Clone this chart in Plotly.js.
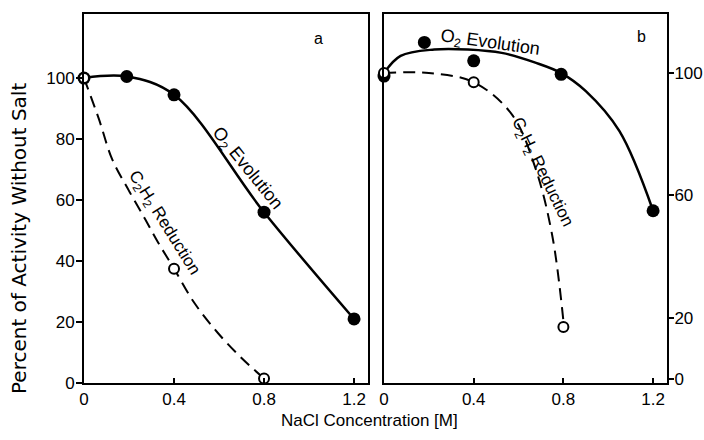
<!DOCTYPE html>
<html>
<head>
<meta charset="utf-8">
<script src="https://cdn.plot.ly/plotly-3.0.1.min.js"></script>
<style>html,body{margin:0;padding:0;background:#fff;}#chart{width:704px;height:440px;}</style>
</head>
<body>
<div id="chart"></div>
<script>
// ---- Data ----
const xTicks = [0, 0.4, 0.8, 1.2];
const xTickText = ['0', '0.4', '0.8', '1.2'];
const yTicksA = [0, 20, 40, 60, 80, 100];
const yTicksB = [0, 20, 60, 100];

// Panel a
const concA_O2 = [0, 0.19, 0.4, 0.8, 1.2];
const actA_O2 = [100, 100.5, 94.5, 56, 21];
const concA_C2H2 = [0, 0.4, 0.8];
const actA_C2H2 = [100, 37.5, 1.5];
const fitA_C2H2_x = [0, 0.066, 0.125, 0.2, 0.272, 0.33, 0.4, 0.49, 0.595, 0.7, 0.8];
const fitA_C2H2_y = [100, 86.6, 73.4, 63, 53.7, 46, 37.5, 26.3, 16.4, 8.2, 1.5];

// Panel b
const concB_O2 = [0, 0.18, 0.4, 0.79, 1.2];
const actB_O2 = [99, 110, 104, 99.6, 55];
const fitB_O2_x = [0, 0.074, 0.224, 0.374, 0.525, 0.675, 0.79, 0.9, 1.05, 1.2];
const fitB_O2_y = [100, 105.6, 107.7, 107.7, 106.6, 103.4, 100, 94.1, 81, 55];
const concB_C2H2 = [0, 0.4, 0.8];
const actB_C2H2 = [100, 97, 17];
const fitB_C2H2_x = [0, 0.2, 0.4, 0.57, 0.675, 0.75, 0.8];
const fitB_C2H2_y = [100, 100, 97, 86.5, 69, 47, 19];

const FONT = 'Liberation Sans, Arial, sans-serif';
const WIDE = 'DejaVu Sans';
const solid = {color: '#000', width: 2.5, shape: 'spline'};
const dashed = {color: '#000', width: 2, dash: '12px,7px', shape: 'spline'};
const filled = {color: '#000', size: 13};
const openM = {color: '#fff', size: 10, line: {color: '#000', width: 2}};

const traces = [
  {x: concA_O2, y: actA_O2, xaxis: 'x', yaxis: 'y', mode: 'lines+markers', line: solid, marker: filled, cliponaxis: false, name: 'O2 Evolution (a)'},
  {x: fitA_C2H2_x, y: fitA_C2H2_y, xaxis: 'x', yaxis: 'y', mode: 'lines', line: dashed, cliponaxis: false, name: 'C2H2 fit (a)'},
  {x: concA_C2H2, y: actA_C2H2, xaxis: 'x', yaxis: 'y', mode: 'markers', marker: openM, cliponaxis: false, name: 'C2H2 Reduction (a)'},
  {x: fitB_O2_x, y: fitB_O2_y, xaxis: 'x2', yaxis: 'y2', mode: 'lines', line: solid, cliponaxis: false, name: 'O2 fit (b)'},
  {x: concB_O2, y: actB_O2, xaxis: 'x2', yaxis: 'y2', mode: 'markers', marker: filled, cliponaxis: false, name: 'O2 Evolution (b)'},
  {x: fitB_C2H2_x, y: fitB_C2H2_y, xaxis: 'x2', yaxis: 'y2', mode: 'lines', line: dashed, cliponaxis: false, name: 'C2H2 fit (b)'},
  {x: concB_C2H2, y: actB_C2H2, xaxis: 'x2', yaxis: 'y2', mode: 'markers', marker: openM, cliponaxis: false, name: 'C2H2 Reduction (b)'}
];

const axBase = {
  showline: true, linecolor: '#000', linewidth: 2, mirror: true,
  showgrid: false, zeroline: false,
  tickcolor: '#000', tickwidth: 2,
  tickfont: {family: FONT, size: 17, color: '#000'}
};

const yDom = [1 - 383 / 440, 1 - 14 / 440];
const layout = {
  width: 704, height: 440,
  margin: {l: 0, r: 0, t: 0, b: 0},
  paper_bgcolor: '#fff', plot_bgcolor: '#fff',
  showlegend: false,
  font: {family: FONT, color: '#000'},
  xaxis: Object.assign({}, axBase, {domain: [84 / 704, 368 / 704], range: [0, 1.262], anchor: 'y',
    tickvals: xTicks, ticktext: xTickText, ticks: 'inside', ticklen: 5}),
  yaxis: Object.assign({}, axBase, {domain: yDom, range: [0, 121], anchor: 'x',
    tickvals: yTicksA, ticks: 'outside', ticklen: 6, ticklabelstandoff: -2}),
  xaxis2: Object.assign({}, axBase, {domain: [384 / 704, 667 / 704], range: [0, 1.262], anchor: 'y2',
    tickvals: xTicks, ticktext: xTickText, ticks: 'inside', ticklen: 5}),
  yaxis2: Object.assign({}, axBase, {domain: yDom, range: [-1.3, 119.3], anchor: 'x2', side: 'right',
    tickvals: yTicksB, ticks: 'outside', ticklen: 5, ticklabelstandoff: -3}),
  annotations: [
    {text: 'Percent of Activity Without Salt', xref: 'paper', yref: 'paper', x: 19 / 704, y: 1 - 239 / 440,
      xanchor: 'center', yanchor: 'middle', textangle: -90, showarrow: false, font: {family: WIDE, size: 20, color: '#000'}},
    {text: 'NaCl Concentration [M]', xref: 'paper', yref: 'paper', x: 370 / 704, y: 1 - 420 / 440,
      xanchor: 'center', yanchor: 'middle', showarrow: false, font: {family: FONT, size: 17, color: '#000'}},
    {text: 'a', xref: 'x', yref: 'y', x: 1.04, y: 113, showarrow: false, font: {family: FONT, size: 16}},
    {text: 'b', xref: 'x2', yref: 'y2', x: 1.147, y: 112, showarrow: false, font: {family: FONT, size: 16}},
    {text: 'O<sub>2</sub> Evolution', xref: 'x', yref: 'y', x: 0.723, y: 70.4, textangle: 51, showarrow: false, font: {family: FONT, size: 18}},
    {text: 'C<sub>2</sub>H<sub>2</sub> Reduction', xref: 'x', yref: 'y', x: 0.352, y: 52.4, textangle: 58, showarrow: false, font: {family: FONT, size: 17}},
    {text: 'O<sub>2</sub> Evolution', xref: 'x2', yref: 'y2', x: 0.473, y: 109.6, textangle: 8, showarrow: false, font: {family: FONT, size: 18}},
    {text: 'C<sub>2</sub>H<sub>2</sub> Reduction', xref: 'x2', yref: 'y2', x: 0.704, y: 67.4, textangle: 64, showarrow: false, font: {family: FONT, size: 17}}
  ]
};

Plotly.newPlot('chart', traces, layout, {displayModeBar: false, staticPlot: true});
</script>
</body>
</html>
